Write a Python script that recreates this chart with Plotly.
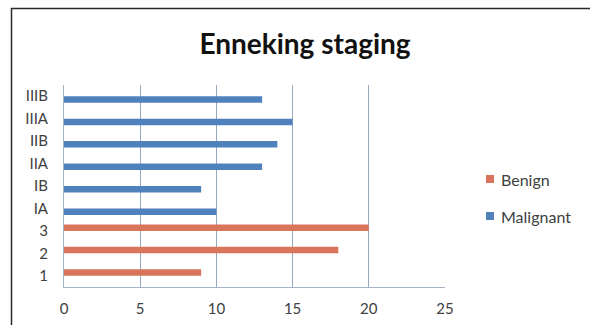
import plotly.graph_objects as go

# Categories, bottom to top
categories = ["1", "2", "3", "IA", "IB", "IIA", "IIB", "IIIA", "IIIB"]

# Patient counts per staging group
benign_values = [9, 18, 20, None, None, None, None, None, None]
malignant_values = [None, None, None, 10, 9, 13, 14, 15, 13]

x_ticks = [0, 5, 10, 15, 20, 25]
legend_names = ["Benign", "Malignant"]

BENIGN_COLOR = "#d9755a"
MALIGNANT_COLOR = "#4f81bd"
GRID_COLOR = "#95a9c0"
TEXT_COLOR = "#404040"
FONT = "Lato, 'DejaVu Sans', sans-serif"

fig = go.Figure()
# Malignant occupies the lower slot of each cluster, Benign the upper slot
fig.add_trace(go.Bar(
    y=categories, x=malignant_values, orientation="h", name="Malignant",
    marker=dict(color=MALIGNANT_COLOR, line=dict(width=0)),
    showlegend=False,
))
fig.add_trace(go.Bar(
    y=categories, x=benign_values, orientation="h", name="Benign",
    marker=dict(color=BENIGN_COLOR, line=dict(width=0)),
    showlegend=False,
))

plot_left, plot_right, plot_top, plot_bottom = 64, 445, 85, 287
pw, ph = plot_right - plot_left, plot_bottom - plot_top


def px_x(px):
    return (px - plot_left) / pw


def px_y(py):
    return (plot_bottom - py) / ph


# Outer frame: top and left edges of the chart box
fig.add_shape(type="line", xref="paper", yref="paper",
              x0=px_x(11), x1=px_x(590), y0=px_y(8.5), y1=px_y(8.5),
              line=dict(color="#2a2a2a", width=1.5))
fig.add_shape(type="line", xref="paper", yref="paper",
              x0=px_x(11.5), x1=px_x(11.5), y0=px_y(8), y1=px_y(325),
              line=dict(color="#2a2a2a", width=1.5))

# Legend: small square keys with labels
for i, (name, color) in enumerate(zip(legend_names, [BENIGN_COLOR, MALIGNANT_COLOR])):
    cy = 179 + 37 * i
    fig.add_shape(type="rect", xref="paper", yref="paper",
                  x0=px_x(486), x1=px_x(494), y0=px_y(cy - 4), y1=px_y(cy + 4),
                  fillcolor=color, line=dict(width=0))
    fig.add_annotation(xref="paper", yref="paper", x=px_x(498.5), y=px_y(cy + 0.5),
                       xanchor="left", yanchor="middle", showarrow=False,
                       text=name, font=dict(family=FONT, size=16, color=TEXT_COLOR))

fig.update_layout(
    width=590, height=325,
    margin=dict(l=plot_left, r=590 - plot_right, t=plot_top, b=325 - plot_bottom,
                autoexpand=False),
    paper_bgcolor="white", plot_bgcolor="white",
    barmode="group", bargap=0.42, bargroupgap=0.0,
    title=dict(text="<b>Enneking staging</b>", x=0.517, xanchor="center",
               y=1 - 44 / 325, yanchor="middle",
               font=dict(family=FONT, size=28, color="#111111")),
    font=dict(family=FONT, size=15, color=TEXT_COLOR),
    showlegend=False,
    xaxis=dict(range=[0, 25], tickvals=x_ticks, showgrid=True,
               gridcolor=GRID_COLOR, gridwidth=1, zeroline=False,
               showline=True, linecolor="#a6b3c2", linewidth=1,
               ticks="outside", ticklen=8, tickcolor="rgba(0,0,0,0)",
               tickfont=dict(family=FONT, size=15, color=TEXT_COLOR),
               fixedrange=True),
    yaxis=dict(categoryorder="array", categoryarray=categories,
               range=[-0.5, 8.5], showgrid=False, zeroline=False,
               showline=True, linecolor="#a6b3c2", linewidth=1,
               ticks="outside", ticklen=12, tickcolor="rgba(0,0,0,0)",
               tickfont=dict(family=FONT, size=15, color=TEXT_COLOR),
               fixedrange=True),
)

fig.write_html("out.html")
